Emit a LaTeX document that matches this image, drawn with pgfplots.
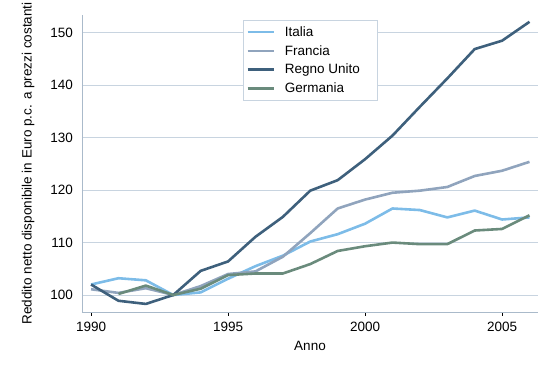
\documentclass[border=0pt]{standalone}
\usepackage{fontspec}
\setmainfont{Liberation Sans}
\usepackage{pgfplots}
\pgfplotsset{compat=1.18}
\definecolor{cIt}{RGB}{125,188,232}
\definecolor{cFr}{RGB}{144,164,189}
\definecolor{cUK}{RGB}{62,96,124}
\definecolor{cDe}{RGB}{106,139,124}
\definecolor{gridc}{RGB}{200,212,224}
\definecolor{axisc}{RGB}{170,186,202}
\begin{document}
\begin{tikzpicture}
\begin{axis}[
  at={(82pt,62pt)}, anchor=south west,
  scale only axis, width=456pt, height=297pt,
  xmin=1989.67, xmax=2006.31, ymin=96.76, ymax=153.4,
  axis x line*=bottom, axis y line*=left,
  axis line style={draw=axisc, line width=0.8pt, -},
  xtick={1990,1995,2000,2005}, ytick={100,110,120,130,140,150},
  tick align=outside,
  major tick length=4pt,
  x tick style={draw=black, line width=0.6pt},
  y tick style={draw=none},
  ymajorgrids, grid style={draw=gridc, line width=0.8pt},
  /pgf/number format/assume math mode=true,
  x tick label style={/pgf/number format/1000 sep={}, yshift=-2.5pt},
  y tick label style={xshift=-1.5pt},
  tick label style={font=\fontsize{13.5}{15}\selectfont},
  label style={font=\fontsize{13.5}{15}\selectfont},
  xlabel={Anno},
  ylabel={Reddito netto disponibile in Euro p.c. a prezzi costanti},
  xlabel style={at={(axis description cs:0.5,-0.1145)}, anchor=center},
  ylabel style={at={(axis description cs:-0.1184,0.5)}, anchor=center},
  legend style={at={(0.353,0.983)}, anchor=north west, draw=gridc, line width=0.8pt,
    font=\fontsize{13.5}{15}\selectfont, row sep=3.5pt, inner xsep=3pt, inner ysep=4pt,
    cells={anchor=west}, /tikz/every odd column/.append style={column sep=8pt}},
  legend image code/.code={\draw[#1] (0pt,0pt) -- (26pt,0pt);},
  every axis plot/.append style={line width=2.6pt, line join=round},
]
\addplot[cIt] table {
1990 102.0
1991 103.2
1992 102.8
1993 100.0
1994 100.5
1995 103.1
1996 105.5
1997 107.5
1998 110.2
1999 111.6
2000 113.6
2001 116.5
2002 116.2
2003 114.8
2004 116.1
2005 114.4
2006 114.8
};
\addlegendentry{Italia}
\addplot[cFr] table {
1990 101.1
1991 100.4
1992 101.3
1993 100.0
1994 101.7
1995 104.0
1996 104.5
1997 107.3
1998 111.8
1999 116.5
2000 118.2
2001 119.5
2002 119.9
2003 120.6
2004 122.7
2005 123.7
2006 125.4
};
\addlegendentry{Francia}
\addplot[cUK] table {
1990 102.0
1991 98.9
1992 98.3
1993 100.0
1994 104.6
1995 106.4
1996 111.1
1997 114.9
1998 119.9
1999 121.9
2000 125.9
2001 130.4
2002 135.9
2003 141.3
2004 146.9
2005 148.5
2006 152.1
};
\addlegendentry{Regno Unito\hspace*{12pt}}
\addplot[cDe] table {
1991 100.2
1992 101.8
1993 100.0
1994 101.2
1995 103.8
1996 104.1
1997 104.1
1998 105.9
1999 108.4
2000 109.3
2001 110.0
2002 109.7
2003 109.7
2004 112.3
2005 112.6
2006 115.2
};
\addlegendentry{Germania}
\end{axis}
\pgfresetboundingbox
\useasboundingbox (0,0) rectangle (553pt,374pt);
\end{tikzpicture}
\end{document}
